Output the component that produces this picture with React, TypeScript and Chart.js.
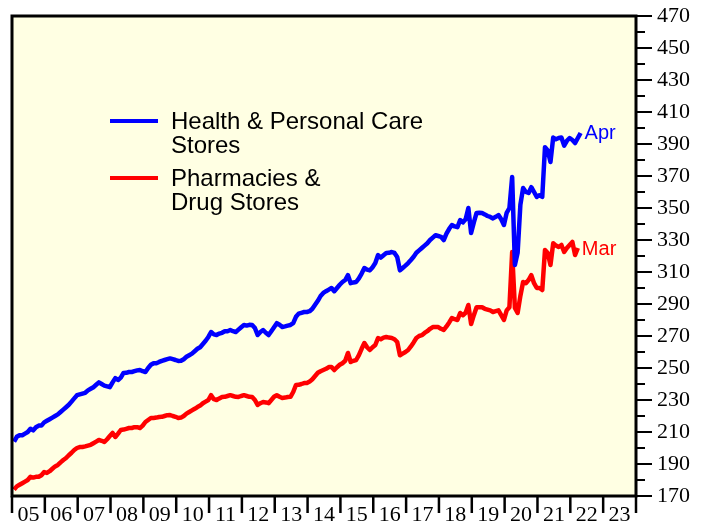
import React, { useEffect, useRef } from "react";
import { Chart, registerables } from "chart.js";

Chart.register(...registerables);

// ---------- data ----------
const startYear = 2005;
const endYear = 2024;

const xTickLabels = ["05", "06", "07", "08", "09", "10", "11", "12", "13", "14", "15", "16", "17", "18", "19", "20", "21", "22", "23"];

const yMin = 170;
const yMax = 470;
const yLabelStep = 20;
const yMinorStep = 10;

const healthLabel = ["Health & Personal Care", "Stores"];
const pharmacyLabel = ["Pharmacies &", "Drug Stores"];
const endLabels = ["Apr", "Mar"];

// monthly, Jan 2005 .. Apr 2022
const healthStores = [
  204, 207, 208, 208, 209, 210, 212, 211, 213, 214, 214, 216,
  217, 218, 219, 220, 221, 222.5, 224, 225.5, 227, 229, 231, 233,
  233.5, 234, 234.5, 236, 237, 238, 239.5, 241, 240, 239, 238.5, 238,
  241, 243.7, 242.5, 244, 246.9, 247, 247.5, 247.5, 248, 248.5, 248.8, 248,
  247.5, 250, 252, 253, 253, 253.8, 254.5, 255, 255.5, 256, 255.5, 255,
  254.4, 254.5, 255.5, 257, 258, 259, 260.5, 262, 263, 265, 267, 269.4,
  272.5, 271, 270.6, 271.5, 272, 273, 273, 273.75, 273, 272.5, 274, 275.5,
  276.9, 276.5, 277, 276.9, 275, 270.6, 272.5, 273.75, 272, 270.6, 273, 275.5,
  278, 277, 275.6, 276, 276.5, 276.9, 278, 282, 284, 284.5, 285, 285,
  285.5, 287, 289.5, 292, 295, 296.9, 298, 299, 300, 298, 300, 302,
  303.75, 305, 308, 303, 303.5, 303.75, 306, 309, 312.5, 311.5, 311, 313,
  315.6, 320.6, 319, 320.5, 321.9, 322, 322.5, 321.9, 319.4, 311, 312.5, 314,
  315.6, 317.5, 319.5, 322, 323.5, 325, 326.5, 328, 330, 331.5, 333, 332.5,
  332, 330, 334, 337, 339.4, 338.5, 338, 342.5, 341, 343, 350, 334.4,
  341, 346.9, 347, 346.9, 346, 345, 344.4, 343.5, 344.5, 345.6, 343, 339.4,
  347, 350, 369.4, 314.4, 322, 352, 362.5, 360, 359.4, 363, 360, 356.9,
  358, 357, 388, 386, 378.75, 394, 393, 393.75, 394, 389, 392, 393.75,
  392.5, 390.6, 393.75, 396.9,
];

// monthly, Jan 2005 .. Mar 2022
const pharmacies = [
  174, 176, 177, 178, 179, 180, 182, 181.5, 182, 182, 183, 185,
  184.4, 185.5, 187, 188.5, 189.4, 191, 192.5, 193.75, 195.5, 197, 198.75, 200,
  200.6, 200.6, 201, 201.5, 202, 203, 204, 205, 204.5, 203.75, 205.5, 207.5,
  209.4, 206.9, 209, 211.25, 211.5, 212, 212.5, 212.5, 213, 213, 212.5, 214,
  216.25, 217.5, 218.75, 218.75, 219, 219.4, 219.5, 220, 220.5, 220.6, 220, 219.5,
  218.75, 219, 220, 221.5, 222.5, 223.5, 224.5, 225.6, 226.5, 228, 229, 230,
  233, 230.5, 230, 231, 231.9, 232, 232.5, 233, 232.5, 232, 231.9, 232.5,
  233, 232.5, 232, 231.9, 230, 226.9, 228, 228.75, 228.5, 228, 230, 232,
  233, 232, 231.25, 231.5, 231.9, 232, 235, 239.4, 239.5, 240, 240.6, 240.6,
  241.5, 243, 245, 247, 248, 248.75, 249.5, 250.6, 250.6, 248.75, 250.5, 252,
  253, 254.5, 259.4, 253.75, 254.5, 255, 258, 262, 265.6, 263, 261.25, 263,
  264.4, 268.75, 268, 269, 269.4, 269, 268.75, 268, 266.25, 258, 259, 260,
  261.25, 263.5, 266, 268.75, 270, 270.5, 271.9, 273, 274.5, 275.6, 275.6, 275.6,
  274.5, 273.75, 276, 278.5, 281.25, 280.5, 280, 284.4, 283, 284.5, 289.4, 277.5,
  283, 288, 288, 288, 287, 286.5, 286, 285, 285.5, 286, 283, 280,
  286, 288, 322.5, 287.5, 284.4, 295, 303.75, 303, 305, 308, 303, 300,
  300, 298.75, 323.75, 321.9, 314.4, 328, 326.5, 325.6, 326.9, 322.5, 325, 326.9,
  328.75, 320.6, 325,
];

const BLUE = "#0000ff";
const RED = "#ff0000";
const PLOT_BG = "#ffffe3";

const toPoints = (vals: number[]) =>
  vals.map((v, i) => ({ x: startYear + (i + 0.75) / 12, y: v }));

const serif = '"Liberation Serif", "Times New Roman", serif';
const sans = '"Liberation Sans", Arial, sans-serif';

const decoPlugin = {
  id: "deco",
  beforeDraw(chart: any) {
    const { ctx, chartArea: a } = chart;
    ctx.save();
    ctx.fillStyle = PLOT_BG;
    ctx.fillRect(a.left, a.top, a.right - a.left, a.bottom - a.top);
    ctx.restore();
  },
  afterDraw(chart: any) {
    const { ctx, chartArea: a } = chart;
    const xs = chart.scales.x;
    const ys = chart.scales.y;
    ctx.save();
    // border
    ctx.strokeStyle = "#000";
    ctx.lineWidth = 3;
    ctx.strokeRect(a.left, a.top, a.right - a.left, a.bottom - a.top);
    // x ticks (year boundaries)
    ctx.lineWidth = 2.5;
    for (let yr = startYear; yr <= endYear; yr++) {
      const px = xs.getPixelForValue(yr);
      ctx.beginPath();
      ctx.moveTo(px, a.bottom);
      ctx.lineTo(px, a.bottom + 17);
      ctx.stroke();
    }
    // y ticks
    ctx.lineWidth = 2;
    for (let v = yMin; v <= yMax; v += yMinorStep) {
      const py = ys.getPixelForValue(v);
      const major = (v - yMin) % yLabelStep === 0;
      ctx.beginPath();
      ctx.moveTo(a.right, py);
      ctx.lineTo(a.right + (major ? 16 : 9), py);
      ctx.stroke();
    }
    // legend
    const legendItems = [
      { lines: healthLabel, color: BLUE, y: 121 },
      { lines: pharmacyLabel, color: RED, y: 178 },
    ];
    ctx.font = `24px ${sans}`;
    ctx.textBaseline = "middle";
    ctx.textAlign = "left";
    legendItems.forEach((it) => {
      ctx.strokeStyle = it.color;
      ctx.lineWidth = 4;
      ctx.beginPath();
      ctx.moveTo(110, it.y);
      ctx.lineTo(158, it.y);
      ctx.stroke();
      ctx.fillStyle = "#000";
      it.lines.forEach((ln, k) => ctx.fillText(ln, 171, it.y + 1 + k * 24));
    });
    // end labels
    ctx.font = `20px ${sans}`;
    [0, 1].forEach((di) => {
      const meta = chart.getDatasetMeta(di);
      const last = meta.data[meta.data.length - 1];
      ctx.fillStyle = di === 0 ? BLUE : RED;
      ctx.fillText(endLabels[di], last.x + 4, last.y + 1);
    });
    ctx.restore();
  },
};

export default function App() {
  const ref = useRef<HTMLCanvasElement | null>(null);
  useEffect(() => {
    if (!ref.current) return;
    const chart = new Chart(ref.current, {
      type: "line",
      data: {
        datasets: [
          {
            label: healthLabel.join(" "),
            data: toPoints(healthStores),
            borderColor: BLUE,
            borderWidth: 4.5,
            pointRadius: 0,
            tension: 0,
            borderJoinStyle: "round",
          },
          {
            label: pharmacyLabel.join(" "),
            data: toPoints(pharmacies),
            borderColor: RED,
            borderWidth: 4.5,
            pointRadius: 0,
            tension: 0,
            borderJoinStyle: "round",
          },
        ],
      },
      options: {
        responsive: false,
        animation: false,
        devicePixelRatio: 1,
        layout: { padding: { left: 12, top: 16, right: 0, bottom: 0 }, autoPadding: false },
        plugins: { legend: { display: false }, tooltip: { enabled: false } },
        scales: {
          x: {
            type: "linear",
            min: startYear,
            max: endYear,
            grid: { display: false, drawTicks: false },
            border: { display: false },
            afterBuildTicks: (s: any) => {
              s.ticks = xTickLabels.map((_, i) => ({ value: startYear + i + 0.5 }));
            },
            afterFit: (s: any) => {
              s.height = 33;
              s.paddingLeft = 0;
              s.paddingRight = 0;
            },
            ticks: {
              autoSkip: false,
              maxRotation: 0,
              padding: 6,
              color: "#000",
              font: { family: serif, size: 22 },
              callback: (_v: any, i: number) => xTickLabels[i],
            },
          },
          y: {
            type: "linear",
            position: "right",
            min: yMin,
            max: yMax,
            grid: { display: false, drawTicks: false },
            border: { display: false },
            afterFit: (s: any) => {
              s.width = 72;
              s.paddingTop = 0;
              s.paddingBottom = 0;
            },
            ticks: {
              stepSize: yLabelStep,
              padding: 21,
              color: "#000",
              font: { family: serif, size: 22 },
            },
          },
        },
      },
      plugins: [decoPlugin],
    });
    return () => chart.destroy();
  }, []);
  return (
    <div style={{ position: "fixed", left: 0, top: 0, width: 708, height: 529, background: "#fff" }}>
      <canvas ref={ref} width={708} height={529} style={{ display: "block" }} />
    </div>
  );
}
